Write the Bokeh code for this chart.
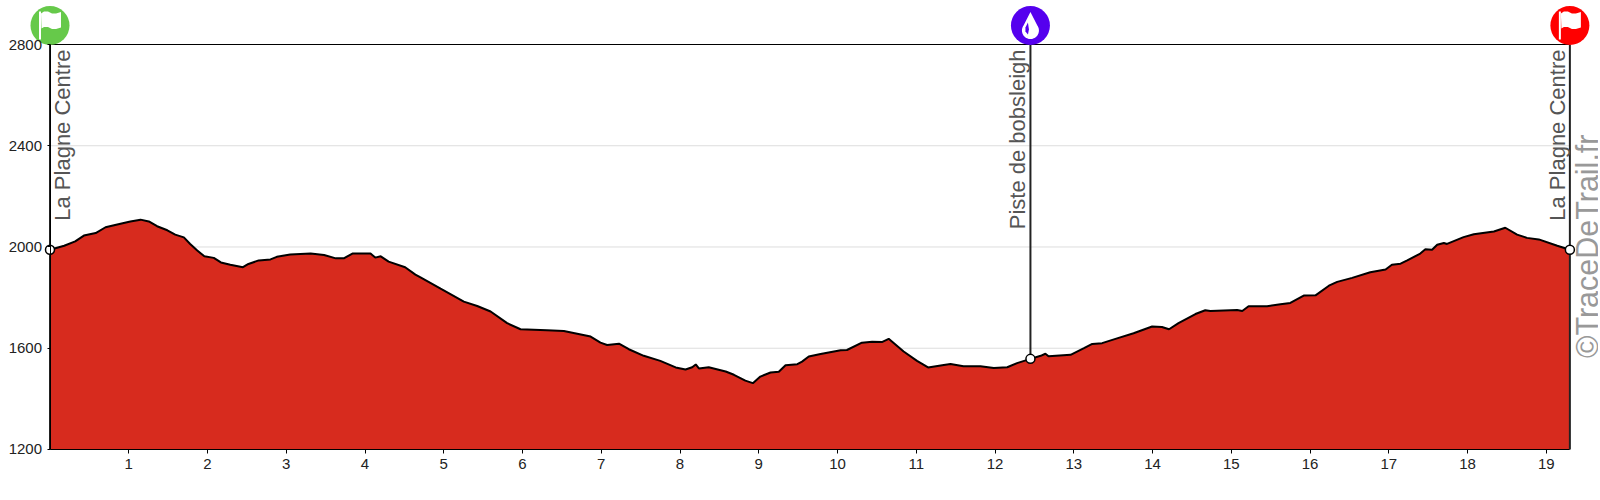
import numpy as np
from bokeh.plotting import figure
from bokeh.models import LinearAxis, FixedTicker
from bokeh.core.properties import value
from bokeh.embed import file_html
from bokeh.resources import INLINE

km = [0, 0.18, 0.32, 0.43, 0.58, 0.705, 0.895, 1.02, 1.15, 1.255, 1.36, 1.49, 1.59, 1.70, 1.78, 1.87, 1.96, 2.08, 2.17, 2.29,
      2.45, 2.52, 2.65, 2.80, 2.88, 3.05, 3.31, 3.48, 3.63, 3.73, 3.84, 4.07, 4.13, 4.20, 4.30, 4.51, 4.64,
      4.705, 4.96, 5.255, 5.425, 5.595, 5.805, 5.975, 6.31, 6.525, 6.695, 6.865, 6.99, 7.075, 7.225, 7.35, 7.54, 7.75, 7.945,
      8.07, 8.155, 8.20, 8.24, 8.365, 8.58, 8.685, 8.83, 8.925, 9.02, 9.15, 9.255, 9.34, 9.49, 9.55, 9.635, 9.785,
      10.04, 10.12, 10.31, 10.44, 10.57, 10.65, 10.84, 11.01, 11.15, 11.35, 11.435, 11.60, 11.815, 11.985, 12.155, 12.28, 12.45,
      12.58, 12.64, 12.68, 12.96, 13.13, 13.235, 13.36, 13.55, 13.76, 13.995, 14.12, 14.21, 14.33, 14.545, 14.67, 14.735,
      15.075, 15.14, 15.22, 15.455, 15.625, 15.75, 15.92, 16.07, 16.24, 16.345, 16.535, 16.765, 16.96, 17.04, 17.15, 17.235,
      17.40, 17.465, 17.55, 17.615, 17.70, 17.74, 17.95, 18.08, 18.335, 18.48, 18.63, 18.755, 18.905, 19.14, 19.30]
elevation = [1989, 2005, 2022, 2045, 2055, 2078, 2092, 2101, 2108, 2101, 2082, 2066, 2049, 2038, 2012, 1986, 1963, 1957, 1939, 1930,
             1920, 1933, 1947, 1951, 1961, 1970, 1974, 1968, 1955, 1955, 1974, 1974, 1958, 1963, 1942, 1920, 1891,
             1880, 1835, 1784, 1767, 1745, 1699, 1675, 1671, 1668, 1657, 1646, 1622, 1613, 1618, 1596, 1570, 1550, 1524,
             1516, 1525, 1536, 1520, 1525, 1508, 1495, 1472, 1462, 1488, 1504, 1507, 1533, 1537, 1547, 1567, 1577,
             1592, 1593, 1622, 1626, 1625, 1637, 1587, 1550, 1524, 1534, 1538, 1529, 1529, 1522, 1525, 1541, 1558,
             1570, 1578, 1568, 1574, 1600, 1617, 1620, 1639, 1659, 1686, 1684, 1675, 1699, 1735, 1750, 1747,
             1751, 1747, 1766, 1766, 1774, 1779, 1808, 1809, 1847, 1862, 1878, 1900, 1911, 1930, 1934, 1947,
             1974, 1991, 1989, 2009, 2016, 2012, 2039, 2050, 2061, 2076, 2049, 2036, 2030, 2005, 1989]
x_ticks = list(range(1, 20))
y_ticks = [1200, 1600, 2000, 2400, 2800]
grid_levels = [1600, 2000, 2400]
way_km = [0, 12.45, 19.30]
way_elev = [1989, 1558, 1989]
way_names = ["La Plagne Centre", "Piste de bobsleigh", "La Plagne Centre"]
way_colors = ["#66C94A", "#5500EE", "#FF0000"]
credit = "©TraceDeTrail.fr"

PX_PER_KM = 78.75
PX_PER_M = 0.2531
KM_MAX = 19.30
Y0, Y1 = 1200, 2800
W, H = 1598, 490
LEFT, TOP = 49.5, 44
ICON_Y = Y1 + 19 / PX_PER_M

p = figure(width=W, height=H, output_backend="svg", toolbar_location=None,
           x_range=(-LEFT / PX_PER_KM, (W - LEFT) / PX_PER_KM),
           y_range=(Y1 - (H - TOP) / PX_PER_M, Y1 + TOP / PX_PER_M),
           x_axis_location=None, y_axis_location=None,
           min_border_left=0, min_border_right=0, min_border_top=0, min_border_bottom=0)
p.outline_line_color = None
p.background_fill_color = "white"
p.xgrid.visible = False
p.ygrid.visible = False

# gridlines and top rule
p.segment(x0=[0] * len(grid_levels), x1=[KM_MAX] * len(grid_levels), y0=grid_levels, y1=grid_levels,
          line_color="#DDDDDD", line_width=1)
p.segment(x0=[0], x1=[KM_MAX], y0=[Y1], y1=[Y1], line_color="#000000", line_width=1)

# profile
p.varea(x=km, y1=[Y0] * len(km), y2=elevation, fill_color="#D72B1E")
p.line(km, elevation, line_color="#000000", line_width=2)

# waypoint stems: the two ends run down to the base, the middle one stops at the profile
p.segment(x0=way_km, x1=way_km, y0=[Y0, way_elev[1], Y0], y1=[Y1] * 3, line_color="#222222", line_width=2)
p.scatter(way_km, way_elev, size=9, marker="circle", fill_color="#FFFFFF", line_color="#000000", line_width=1.5)

# waypoint names
for xk, name, off in zip(way_km, way_names, [12, -13, -12]):
    p.text([xk], [Y1], text=[name], angle=np.pi / 2, text_align="right", text_baseline="alphabetic",
           x_offset=off, y_offset=5, text_color="#555555", text_font=value("Liberation Sans"),
           text_font_size=value("22px"))

# credit
p.text([KM_MAX], [Y1 - 90 / PX_PER_M], text=[credit], angle=np.pi / 2, text_align="right", text_baseline="alphabetic",
       x_offset=17, text_color="#999999", text_font=value("Liberation Sans"), text_font_size=value("30.5px"))

# icons
p.scatter(way_km, [ICON_Y] * 3, size=39, marker="circle", fill_color=way_colors, line_color=None)

def icon(xk, pts, color):
    a = np.array(pts, dtype=float)
    p.patch(xk + a[:, 0] / PX_PER_KM, ICON_Y - a[:, 1] / PX_PER_M, fill_color=color, line_color=None)

flag = [(-9, -12), (-6, -14), (-2, -14), (2, -12), (6, -12), (11, -13.5), (11, 2), (6, 3.5), (2, 3.5), (-2, 1.5), (-6, 1.5), (-8.5, 3)]
pole = [(-11, -14), (-9, -14), (-9, 14), (-11, 14)]
for i in (0, 2):
    icon(way_km[i], flag, "#FFFFFF")
    icon(way_km[i], pole, "#FFFFFF")

body = [(0, -13.5)] + [(8.5 * np.cos(a), 5 - 8.5 * np.sin(a)) for a in np.linspace(0.2 * np.pi, -1.2 * np.pi, 40)]
icon(way_km[1], body, "#FFFFFF")
icon(way_km[1], [(-2.5, -3), (-1.5, 4), (-2.5, 9), (-5, 6), (-5, 2)], "#5500EE")

# axes: placed at fixed data positions, so the frame can hold the icons and labels round them
yaxis = LinearAxis(ticker=FixedTicker(ticks=y_ticks), fixed_location=0, bounds=(Y0, Y1))
yaxis.axis_line_color = "#000000"
yaxis.axis_line_width = 1
yaxis.major_tick_in = 0
yaxis.major_tick_out = 3
yaxis.minor_tick_line_color = None
yaxis.major_label_standoff = 5
yaxis.major_label_text_font = "Liberation Sans"
yaxis.major_label_text_font_size = "15px"
yaxis.major_label_text_color = "#222222"
p.add_layout(yaxis, "left")

xaxis = LinearAxis(ticker=FixedTicker(ticks=x_ticks), fixed_location=Y0, bounds=(0, KM_MAX))
xaxis.axis_line_color = "#000000"
xaxis.axis_line_width = 1
xaxis.major_tick_in = 0
xaxis.major_tick_out = 4
xaxis.minor_tick_line_color = None
xaxis.major_label_standoff = 6
xaxis.major_label_text_font = "Liberation Sans"
xaxis.major_label_text_font_size = "15px"
xaxis.major_label_text_color = "#222222"
p.add_layout(xaxis, "below")

open("out.html", "w").write(file_html(p, INLINE))
